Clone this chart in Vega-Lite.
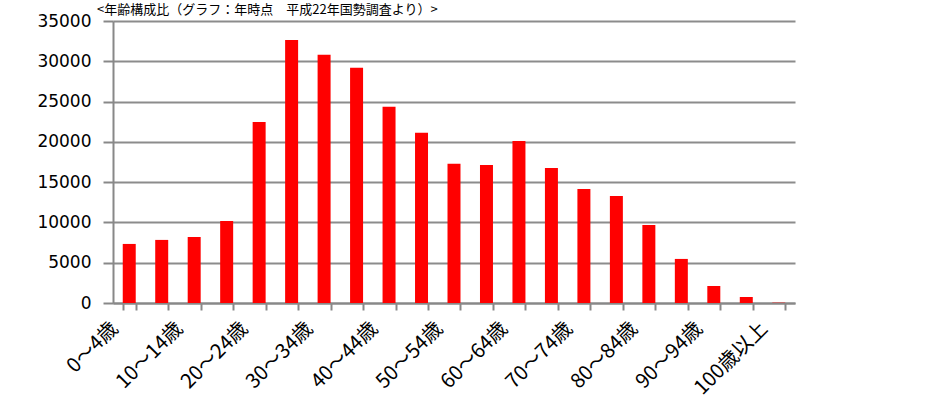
{
  "$schema": "https://vega.github.io/schema/vega-lite/v6.json",
  "autosize": {"type": "none"},
  "width": 682,
  "height": 282,
  "padding": {"left": 113, "top": 21, "right": 150, "bottom": 105},
  "background": "white",
  "title": {
    "text": "<年齢構成比（グラフ：年時点　平成22年国勢調査より）>",
    "anchor": "start",
    "frame": "group",
    "dx": -16,
    "dy": 18,
    "offset": 0,
    "baseline": "bottom",
    "font": "Noto Sans CJK JP",
    "fontSize": 13,
    "fontWeight": "normal",
    "color": "black"
  },
  "data": {
    "values": [
      {"age": "0〜4歳", "pop": 7330},
      {"age": "5〜9歳", "pop": 7830},
      {"age": "10〜14歳", "pop": 8200},
      {"age": "15〜19歳", "pop": 10190},
      {"age": "20〜24歳", "pop": 22480},
      {"age": "25〜29歳", "pop": 32650},
      {"age": "30〜34歳", "pop": 30800},
      {"age": "35〜39歳", "pop": 29190},
      {"age": "40〜44歳", "pop": 24350},
      {"age": "45〜49歳", "pop": 21120},
      {"age": "50〜54歳", "pop": 17270},
      {"age": "55〜59歳", "pop": 17140},
      {"age": "60〜64歳", "pop": 20120},
      {"age": "65〜69歳", "pop": 16770},
      {"age": "70〜74歳", "pop": 14160},
      {"age": "75〜79歳", "pop": 13290},
      {"age": "80〜84歳", "pop": 9690},
      {"age": "85〜89歳", "pop": 5470},
      {"age": "90〜94歳", "pop": 2110},
      {"age": "95〜99歳", "pop": 745},
      {"age": "100歳以上", "pop": 40}
    ]
  },
  "mark": {"type": "bar", "color": "#ff0000"},
  "encoding": {
    "x": {
      "field": "age",
      "type": "nominal",
      "sort": null,
      "title": null,
      "scale": {"paddingInner": 0.6, "paddingOuter": 0.3},
      "axis": {
        "tickBand": "extent",
        "labelAngle": -45,
        "labelExpr": "test(/^(5|15|25|35|45|55|65|75|85|95)〜/, datum.label) ? '' : datum.label",
        "labelFont": "Noto Sans CJK JP",
        "labelFontSize": 20,
        "labelColor": "black",
        "labelOffset": -22,
        "labelPadding": 8,
        "labelOverlap": false,
        "domainColor": "#888888",
        "domainWidth": 2,
        "tickColor": "#888888",
        "tickWidth": 2,
        "tickSize": 7,
        "grid": false
      }
    },
    "y": {
      "field": "pop",
      "type": "quantitative",
      "title": null,
      "scale": {"domain": [0, 35000], "nice": false},
      "axis": {
        "values": [0, 5000, 10000, 15000, 20000, 25000, 30000, 35000],
        "format": "d",
        "labelFont": "DejaVu Sans",
        "labelFontSize": 17,
        "labelColor": "black",
        "labelPadding": 12,
        "tickSize": 10,
        "tickColor": "#888888",
        "tickWidth": 2,
        "domainColor": "#888888",
        "domainWidth": 2,
        "grid": true,
        "gridColor": "#8c8c8c",
        "gridWidth": 2
      }
    }
  },
  "config": {"view": {"stroke": null}}
}
